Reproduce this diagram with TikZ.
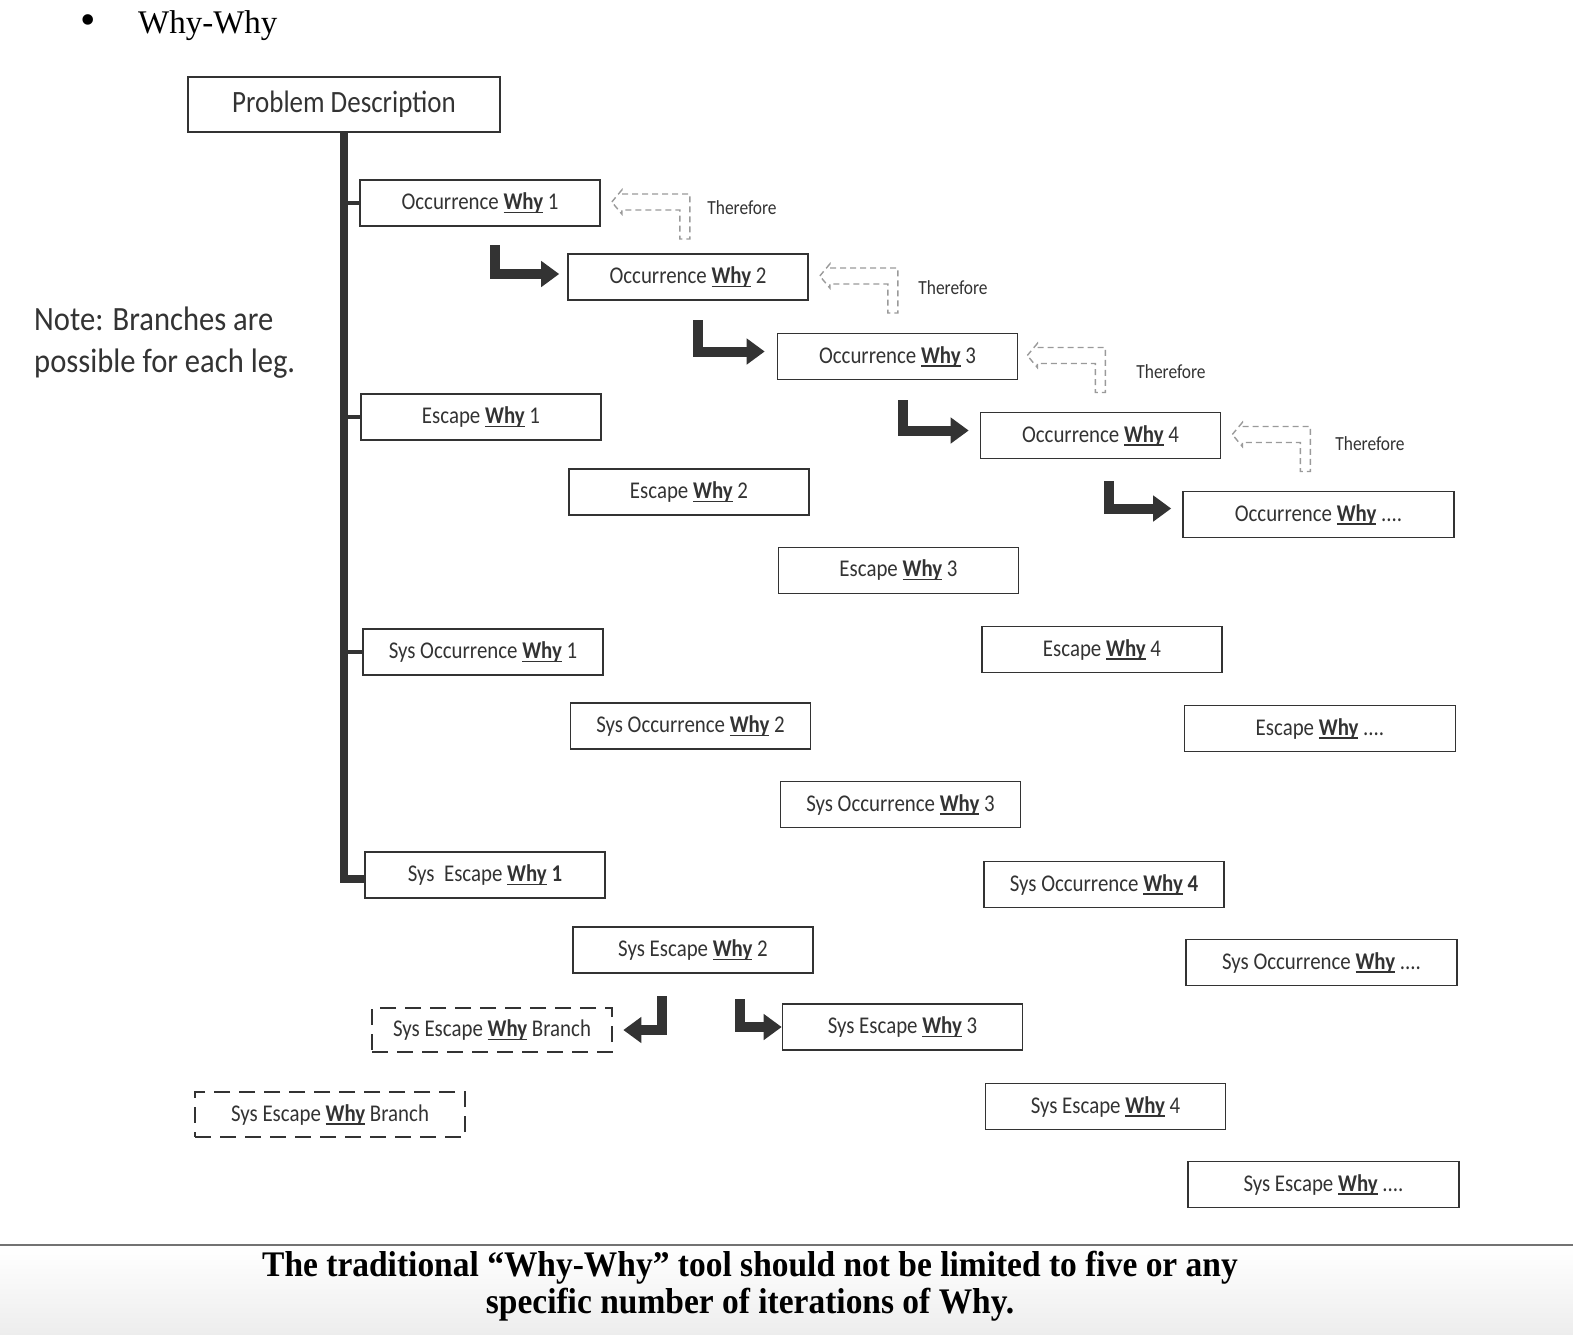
\documentclass[tikz,border=0pt]{standalone}
\usepackage{fontspec}
\setmainfont{Carlito}[FakeStretch=0.87]
\newfontfamily\notefont{Carlito}[FakeStretch=0.9]
\newfontfamily\serifcap{Liberation Serif}[FakeStretch=0.93]
\newfontfamily\seriftitle{Liberation Serif}
\usetikzlibrary{arrows.meta}
\definecolor{ink}{HTML}{333333}
\definecolor{dashgray}{HTML}{9A9A9A}
\newcommand\whyu{\setbox0\hbox{\textbf{Why}}\rlap{\rule[-3.5pt]{\wd0}{1.4pt}}\box0}
\begin{document}
\begin{tikzpicture}[x=1pt,y=-1pt,
  box/.style={draw=ink,line width=1.6pt,rectangle,minimum width=240pt,minimum height=46pt,inner sep=0pt,text=ink,font=\fontsize{24}{28}\selectfont},
  wide/.style={box,minimum width=271pt},
  branchbox/.style={box,dash pattern=on 16pt off 9pt,line width=2.6pt},
  spine/.style={draw=ink,line width=8pt},
  tick/.style={draw=ink,line width=3.5pt},
  larrow/.style={draw=ink, line width=10pt, -{Triangle[length=18pt,width=25pt]}},
  thereshape/.style={draw=dashgray,line width=1.4pt,dash pattern=on 6pt off 4pt},
  therefore/.style={text=ink,font=\fontsize{20}{24}\selectfont,inner sep=0pt},
  notetext/.style={anchor=base west,font=\notefont\fontsize{34}{40}\selectfont,text=ink,inner sep=0pt},
  captext/.style={anchor=base,font=\serifcap\bfseries\fontsize{36}{40}\selectfont,text=black,inner sep=0pt},
]
\useasboundingbox (0,0) rectangle (1573,1334);
\shade[top color=white,bottom color=black!7] (0,1247) rectangle (1573,1334);
\draw[line width=2pt,draw=black!55] (0,1245) -- (1573,1245);

% title
\node[font=\seriftitle\fontsize{44}{48}\selectfont,inner sep=0pt] (bul) at (88,25) {\textbullet};
\node[anchor=base west,font=\seriftitle\fontsize{33}{36}\selectfont,inner sep=0pt] (title) at (138,33) {Why-Why};

% note
\node[notetext] (note1) at (34,330) {Note: Branches are};
\node[notetext] (note2) at (34,372) {possible for each leg.};

% boxes
\node[box,minimum width=312pt,minimum height=55pt,font=\fontsize{31}{36}\selectfont] (pd) at (344,104.5) {Problem Description};

\node[box] (o1) at (480,203) {Occurrence \whyu\ 1};
\node[box] (o2) at (688,277) {Occurrence \whyu\ 2};
\node[box] (o3) at (897.5,356.5) {Occurrence \whyu\ 3};
\node[box] (o4) at (1100.5,435.5) {Occurrence \whyu\ 4};
\node[wide] (o5) at (1318.5,514.5) {Occurrence \whyu\ ....};

\node[box] (e1) at (481,417) {Escape \whyu\ 1};
\node[box] (e2) at (689,492) {Escape \whyu\ 2};
\node[box] (e3) at (898.5,570.5) {Escape \whyu\ 3};
\node[box] (e4) at (1102,649.5) {Escape \whyu\ 4};
\node[wide] (e5) at (1320,728.5) {Escape \whyu\ ....};

\node[box] (s1) at (483,652) {Sys Occurrence \whyu\ 1};
\node[box] (s2) at (690.5,726) {Sys Occurrence \whyu\ 2};
\node[box] (s3) at (900.5,804.5) {Sys Occurrence \whyu\ 3};
\node[box] (s4) at (1104,884.5) {Sys Occurrence \whyu\ \textbf{4}};
\node[wide] (s5) at (1321.5,962.5) {Sys Occurrence \whyu\ ....};

\node[box] (se1) at (485,875) {Sys\ \ Escape \whyu\ \textbf{1}};
\node[box] (se2) at (693,950) {Sys Escape \whyu\ 2};
\node[box] (se3) at (902.5,1027) {Sys Escape \whyu\ 3};
\node[box] (se4) at (1105.5,1106.5) {Sys Escape \whyu\ 4};
\node[wide] (se5) at (1323.5,1184.5) {Sys Escape \whyu\ ....};

\node[branchbox,minimum height=44pt] (b1) at (492,1030) {Sys Escape \whyu\ Branch};
\node[branchbox,minimum width=270pt,minimum height=45pt] (b2) at (330,1114.5) {Sys Escape \whyu\ Branch};

% spine and ticks
\draw[spine] (pd.south) |- ([yshift=-4pt]se1.west);
\draw[tick] (pd.south |- o1.west) -- (o1.west);
\draw[tick] (pd.south |- e1.west) -- (e1.west);
\draw[tick] (pd.south |- s1.west) -- (s1.west);

% L arrows
\coordinate (a1) at (495,245);
\coordinate (a2) at (698,320);
\coordinate (a3) at (903,400);
\coordinate (a4) at (1109,481);
\coordinate (a5) at (662,996);
\coordinate (a6) at (740,999);
\draw[larrow,shorten >=8pt] (a1) |- ([yshift=3pt]o2.west);
\draw[larrow,shorten >=12pt] (a2) |- ([yshift=5pt]o3.west);
\draw[larrow,shorten >=11pt] (a3) |- ([yshift=5pt]o4.west);
\draw[larrow,shorten >=11pt] (a4) |- ([yshift=6pt]o5.west);
\draw[larrow,shorten >=10pt] (a5) |- (b1.east);
\draw[larrow] (a6) |- (se3.west);

% therefore arrows
\coordinate (t1) at ([shift={(11,-1)}]o1.east);
\coordinate (t2) at ([shift={(11,-1)}]o2.east);
\coordinate (t3) at ([shift={(9,-1)}]o3.east);
\coordinate (t4) at ([shift={(11,-1)}]o4.east);
\foreach \t in {t1,t2,t3,t4}{
  \draw[thereshape] (\t) -- ++(10,-12) -- ++(0,4) -- ++(68,0) -- ++(0,45) -- ++(-10,0) -- ++(0,-29) -- ++(-58,0) -- ++(0,4) -- cycle;
}
\node[therefore] (th1) at (742,208) {Therefore};
\node[therefore] (th2) at (953,288) {Therefore};
\node[therefore] (th3) at (1171,372) {Therefore};
\node[therefore] (th4) at (1370,444) {Therefore};

% caption
\node[captext] (cap1) at (750,1276) {The traditional “Why-Why” tool should not be limited to five or any};
\node[captext] (cap2) at (750,1313) {specific number of iterations of Why.};
\end{tikzpicture}
\end{document}
